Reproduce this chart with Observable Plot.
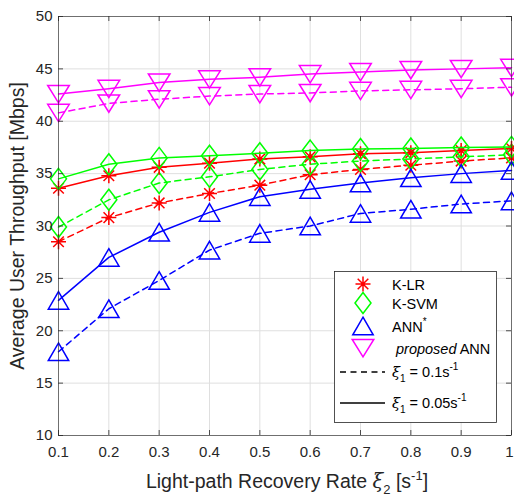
<!DOCTYPE html>
<html><head><meta charset="utf-8">
<script src="https://cdn.jsdelivr.net/npm/d3@7"></script>
<script src="https://cdn.jsdelivr.net/npm/@observablehq/plot@0.6"></script>
<style>
body{margin:0;background:#fff;}
#wrap{position:relative;width:514px;height:498px;}
#legend{position:absolute;left:334px;top:271px;}
</style></head><body><div id="wrap"></div>
<script>
// ---- data ----
const xValues = [0.1, 0.2, 0.3, 0.4, 0.5, 0.6, 0.7, 0.8, 0.9, 1.0];
const propSolid = [42.6, 43.1, 43.7, 44.0, 44.2, 44.5, 44.7, 44.9, 45.0, 45.1];
const propDash  = [40.8, 41.7, 42.1, 42.4, 42.6, 42.7, 42.9, 43.0, 43.1, 43.25];
const ksvmSolid = [34.5, 35.9, 36.5, 36.7, 36.95, 37.2, 37.35, 37.4, 37.5, 37.55];
const klrSolid  = [33.6, 34.8, 35.6, 36.0, 36.4, 36.6, 36.9, 37.0, 37.2, 37.4];
const ksvmDash  = [29.9, 32.5, 34.1, 34.7, 35.4, 35.9, 36.2, 36.4, 36.6, 36.8];
const klrDash   = [28.5, 30.8, 32.2, 33.1, 33.9, 34.9, 35.4, 35.8, 36.2, 36.5];
const annSolid  = [22.9, 27.0, 29.4, 31.3, 32.8, 33.5, 34.1, 34.6, 35.0, 35.3];
const annDash   = [18.0, 22.1, 24.8, 27.7, 29.3, 30.0, 31.2, 31.6, 32.1, 32.4];
const xTicks = [0.1, 0.2, 0.3, 0.4, 0.5, 0.6, 0.7, 0.8, 0.9, 1];
const xTickLabels = ["0.1", "0.2", "0.3", "0.4", "0.5", "0.6", "0.7", "0.8", "0.9", "1"];
const yTicks = [10, 15, 20, 25, 30, 35, 40, 45, 50];
const yTickLabels = ["10", "15", "20", "25", "30", "35", "40", "45", "50"];
const legendLabels = ["K-LR", "K-SVM", "ANN", "proposed ANN"];

const FONT = '"Liberation Sans", Arial, Helvetica, sans-serif';

// ---- marker shapes ----
const shapes = {
  star: {draw(c){const a=7.5,d=5.3;c.moveTo(0,-a);c.lineTo(0,a);c.moveTo(-a,0);c.lineTo(a,0);c.moveTo(-d,-d);c.lineTo(d,d);c.moveTo(-d,d);c.lineTo(d,-d);}},
  diamond: {draw(c){c.moveTo(0,-10.5);c.lineTo(8,0);c.lineTo(0,10.5);c.lineTo(-8,0);c.closePath();}},
  triUp: {draw(c){c.moveTo(0,-8.8);c.lineTo(10.2,8.8);c.lineTo(-10.2,8.8);c.closePath();}},
  triDown: {draw(c){c.moveTo(-10.8,-8.5);c.lineTo(10.8,-8.5);c.lineTo(0,8.8);c.closePath();}}
};

const series = [
  {vals: klrDash, color: "#ff0000", shape: shapes.star, dash: true},
  {vals: ksvmDash, color: "#00ff00", shape: shapes.diamond, dash: true},
  {vals: annDash, color: "#0000ff", shape: shapes.triUp, dash: true},
  {vals: propDash, color: "#ff00ff", shape: shapes.triDown, dash: true},
  {vals: klrSolid, color: "#ff0000", shape: shapes.star, dash: false},
  {vals: ksvmSolid, color: "#00ff00", shape: shapes.diamond, dash: false},
  {vals: annSolid, color: "#0000ff", shape: shapes.triUp, dash: false},
  {vals: propSolid, color: "#ff00ff", shape: shapes.triDown, dash: false}
];

const tkY = 5 / (419 / 40);   // tick length in y units
const tkX = 5 / (453 / 0.9);  // tick length in x units

const marks = [
  Plot.gridX(xTicks, {stroke: "#dfdfdf", strokeOpacity: 1, strokeWidth: 1}),
  Plot.gridY(yTicks, {stroke: "#dfdfdf", strokeOpacity: 1, strokeWidth: 1})
];
for (const s of series) {
  const data = xValues.map((x, i) => ({x, y: s.vals[i]}));
  marks.push(Plot.line(data, {x: "x", y: "y", stroke: s.color, strokeWidth: 1.5,
    strokeDasharray: s.dash ? "6,4.5" : null}));
  marks.push(Plot.dot(data, {x: "x", y: "y", symbol: s.shape, r: 5, fill: "none",
    stroke: s.color, strokeWidth: 1.5}));
}
marks.push(
  Plot.ruleX(xTicks, {x: d => d, y1: 10, y2: 10 + tkY, stroke: "#262626", strokeWidth: 0.8}),
  Plot.ruleX(xTicks, {x: d => d, y1: 50 - tkY, y2: 50, stroke: "#262626", strokeWidth: 0.8}),
  Plot.ruleY(yTicks, {y: d => d, x1: 0.1, x2: 0.1 + tkX, stroke: "#262626", strokeWidth: 0.8}),
  Plot.ruleY(yTicks, {y: d => d, x1: 1 - tkX, x2: 1, stroke: "#262626", strokeWidth: 0.8}),
  Plot.frame({stroke: "#262626", strokeWidth: 0.8, strokeOpacity: 0.75}),
  Plot.axisX(xTicks.slice(0, -1), {tickSize: 0, tickPadding: 11, fontSize: 15, fill: "#262626",
    tickFormat: (d, i) => xTickLabels[i], label: null}),
  Plot.axisX(xTicks.slice(-1), {tickSize: 0, tickPadding: 11, fontSize: 15, fill: "#262626", dx: -2,
    tickFormat: () => xTickLabels[xTickLabels.length - 1], label: null}),
  Plot.axisY(yTicks, {tickSize: 0, tickPadding: 6, fontSize: 15, fill: "#262626",
    tickFormat: (d, i) => yTickLabels[i], label: null})
);

const chart = Plot.plot({
  width: 514, height: 498,
  marginLeft: 58, marginRight: 3, marginTop: 16, marginBottom: 63,
  x: {domain: [0.1, 1]},
  y: {domain: [10, 50]},
  style: {fontFamily: FONT, background: "#fff", overflow: "visible"},
  marks
});

// axis titles with sub/superscripts
const svg = d3.select(chart);
svg.append("text")
  .attr("transform", "translate(24,226) rotate(-90)")
  .attr("text-anchor", "middle").attr("font-size", 19.5).attr("fill", "#262626")
  .attr("font-family", FONT).text("Average User Throughput [Mbps]");
const xl = svg.append("text")
  .attr("x", 287).attr("y", 488).attr("text-anchor", "middle")
  .attr("font-size", 19.5).attr("fill", "#262626").attr("font-family", FONT);
xl.append("tspan").text("Light-path Recovery Rate ");
xl.append("tspan").attr("font-style", "italic").attr("font-family", '"DejaVu Serif", serif').text("ξ");
xl.append("tspan").attr("font-size", 13).attr("dy", 6).text("2");
xl.append("tspan").attr("dy", -6).text(" [s");
xl.append("tspan").attr("font-size", 13).attr("dy", -8).text("-1");
xl.append("tspan").attr("dy", 8).text("]");

const wrap = document.getElementById("wrap");
wrap.appendChild(chart);

// ---- legend ----
const L = d3.select(wrap).append("svg").attr("id", "legend")
  .attr("width", 164).attr("height", 153)
  .style("font-family", FONT);
L.append("rect").attr("x", 0.5).attr("y", 0.5).attr("width", 162).attr("height", 151)
  .attr("fill", "#fff").attr("stroke", "#262626").attr("stroke-width", 0.8);
const legRows = [
  {shape: shapes.star, color: "#ff0000", y: 13},
  {shape: shapes.diamond, color: "#00ff00", y: 32},
  {shape: shapes.triUp, color: "#0000ff", y: 55},
  {shape: shapes.triDown, color: "#ff00ff", y: 77}
];
legRows.forEach((r, i) => {
  L.append("path").attr("transform", `translate(29,${r.y})`)
    .attr("d", d3.symbol().type(r.shape)()).attr("fill", "none")
    .attr("stroke", r.color).attr("stroke-width", 1.5);
  const t = L.append("text").attr("x", 58).attr("y", r.y + 5.5).attr("font-size", 14.5).attr("fill", "#000");
  if (i === 2) {
    t.append("tspan").text("ANN");
    t.append("tspan").attr("font-size", 10).attr("dy", -7).text("*");
  } else if (i === 3) {
    t.attr("x", 62);
    t.append("tspan").attr("font-style", "italic").text("proposed");
    t.append("tspan").text(" ANN");
  } else {
    t.text(legendLabels[i]);
  }
});
const styleRows = [{dash: "6,4.5", y: 101, val: "0.1"}, {dash: null, y: 132, val: "0.05"}];
styleRows.forEach(r => {
  L.append("line").attr("x1", 6).attr("x2", 51).attr("y1", r.y).attr("y2", r.y)
    .attr("stroke", "#000").attr("stroke-width", 1.5).attr("stroke-dasharray", r.dash);
  const t = L.append("text").attr("x", 58).attr("y", r.y + 5).attr("font-size", 14.5).attr("fill", "#000");
  t.append("tspan").attr("font-style", "italic").attr("font-family", '"DejaVu Serif", serif').text("ξ");
  t.append("tspan").attr("font-size", 10).attr("dy", 5).text("1");
  t.append("tspan").attr("dy", -5).text(" = " + r.val + "s");
  t.append("tspan").attr("font-size", 10).attr("dy", -7).text("-1");
});
</script></body></html>
